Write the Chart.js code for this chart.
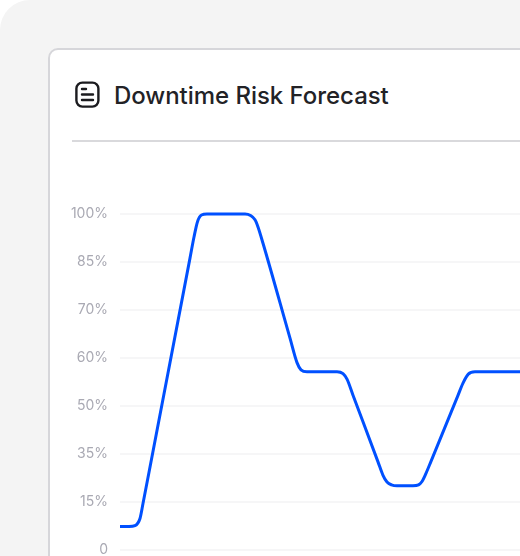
<!DOCTYPE html>
<html>
<head>
<meta charset="utf-8">
<script src="https://cdn.jsdelivr.net/npm/chart.js@4/dist/chart.umd.min.js"></script>
<style>
  html, body { margin: 0; padding: 0; background: #fff; }
  body { width: 520px; height: 556px; overflow: hidden; position: relative; font-family: Inter, sans-serif; }
  .panel { position: absolute; left: 0; top: 0; width: 600px; height: 620px; background: #f4f4f4; border-radius: 30px; }
  .card { position: absolute; left: 48px; top: 48px; width: 600px; height: 600px; background: #fff; border: 2px solid #d6d6da; border-radius: 10px; box-sizing: border-box; }
  .divider { position: absolute; left: 72px; top: 139.5px; width: 448px; height: 2px; background: #d9d9dc; }
  .title { position: absolute; left: 114px; top: 80px; font-size: 24px; line-height: 32px; font-weight: 500; letter-spacing: -0.04px; color: #222226; white-space: nowrap; }
  .icon { position: absolute; left: 75px; top: 81px; }
  canvas { position: absolute; left: 0; top: 0; }
</style>
</head>
<body>
<div class="panel"></div>
<div class="card"></div>
<svg class="icon" width="25" height="27" viewBox="0 0 25 27" fill="none" stroke="#1b1b1f" stroke-width="2.4" stroke-linecap="round">
  <rect x="1.4" y="1.6" width="22" height="24" rx="6"/>
  <path d="M7 8h4M7 13.5h11M7 19h11"/>
</svg>
<div class="title">Downtime Risk Forecast</div>
<div class="divider"></div>
<canvas id="riskChart" width="520" height="570"></canvas>
<script>
const tickLabels = ["0", "15%", "35%", "50%", "60%", "70%", "85%", "100%"];
const forecastHours = [0, 9, 15, 20, 23, 28, 70, 74, 77.5, 81.5, 87, 125, 130.5, 135, 138, 143, 170, 177, 181, 187, 217, 223, 227, 233, 258, 263, 267, 271.5, 277, 293, 298.5, 302, 306, 311, 338, 343, 348.3, 355, 400];
const riskLevels = [0.48, 0.48, 0.5, 0.65, 0.96, 1.505, 6.08, 6.52, 6.84, 6.98, 7, 7, 6.97, 6.88, 6.73, 6.39, 4.41, 3.9, 3.75, 3.71, 3.71, 3.67, 3.554, 3.22, 1.83, 1.55, 1.41, 1.35, 1.33, 1.33, 1.35, 1.42, 1.59, 1.84, 3.218, 3.473, 3.66, 3.71, 3.71];

let ctx = document.getElementById("riskChart");
new Chart(ctx, {
  type: 'line',
  data: {
    datasets: [{
      data: forecastHours.map((h, i) => ({ x: h, y: riskLevels[i] })),
      borderColor: '#0050ff',
      borderWidth: 3,
      pointRadius: 0,
      cubicInterpolationMode: 'monotone',
      clip: false
    }]
  },
  options: {
    responsive: false,
    animation: false,
    layout: { padding: { top: 214, bottom: 7, left: 0, right: 0 } },
    plugins: { legend: { display: false }, tooltip: { enabled: false } },
    scales: {
      x: { type: 'linear', min: 0, max: 400, display: false },
      y: {
        min: 0,
        max: 7,
        afterFit(axis) { axis.width = 120; },
        border: { display: false },
        grid: { color: '#f6f6f7', lineWidth: 2, drawTicks: false },
        ticks: {
          stepSize: 1,
          padding: 12,
          color: '#a9a9b3',
          font: { family: 'Inter', size: 14 },
          callback: (v) => tickLabels[v]
        }
      }
    }
  }
});
</script>
</body>
</html>
